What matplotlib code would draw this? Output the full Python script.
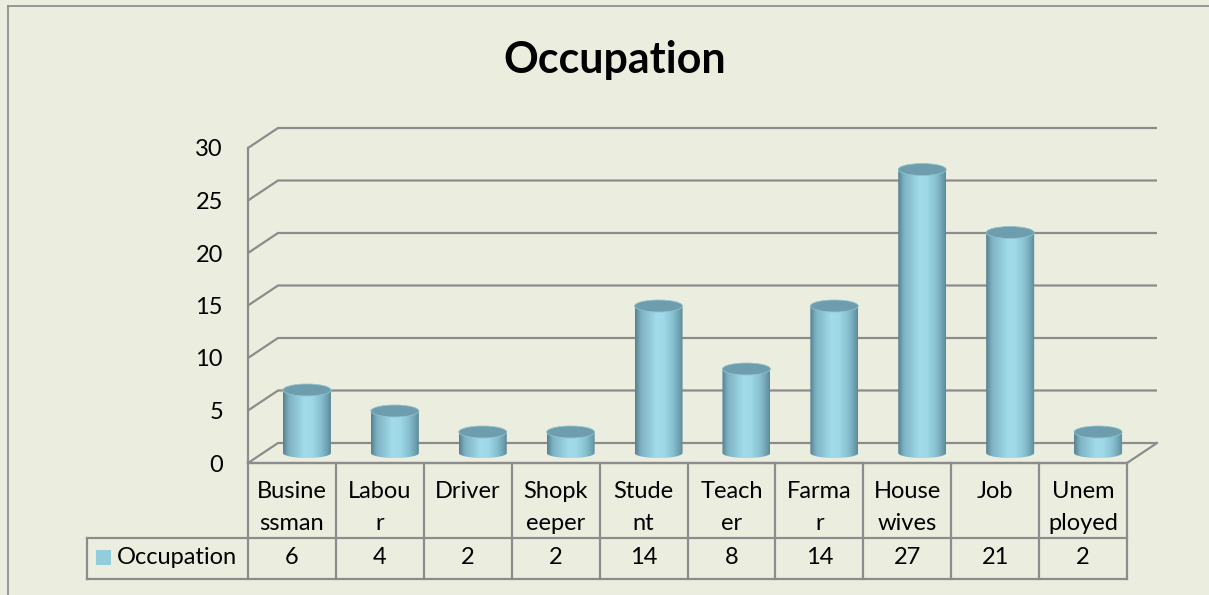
import numpy as np
import matplotlib.pyplot as plt
from matplotlib.patches import Ellipse, PathPatch, Rectangle
from matplotlib.path import Path
from matplotlib.colors import LinearSegmentedColormap
import matplotlib.transforms as mtransforms

# data
labels = ["Busine\nssman", "Labou\nr", "Driver", "Shopk\neeper", "Stude\nnt",
          "Teach\ner", "Farma\nr", "House\nwives", "Job", "Unem\nployed"]
values = [6, 4, 2, 2, 14, 8, 14, 27, 21, 2]
series_name = "Occupation"
yticks = [0, 5, 10, 15, 20, 25, 30]

W, H = 1209, 595
bg = "#EBEEDF"
grid_c = "#8C8C8C"
font = "Lato"

fig = plt.figure(figsize=(W / 100, H / 100), dpi=100, facecolor=bg)

def fy(p):
    return 1 - p / H

def fx(p):
    return p / W

# front plane of the plot area (pixels)
x0, x1 = 248, 1127
ytop, ybot = 148, 463
ax = fig.add_axes([fx(x0), fy(ybot), fx(x1 - x0), (ybot - ytop) / H])
ax.set_facecolor("none")
ax.set_xlim(0, len(values))
ax.set_ylim(0, 30)
for s in ax.spines.values():
    s.set_visible(False)
ax.set_xticks([])
ax.set_yticks(yticks)
ax.set_yticklabels([str(t) for t in yticks], fontsize=17, family=font)
ax.tick_params(axis="y", length=0, pad=18)

# depth offsets in data units
px_x = (x1 - x0) / len(values)
px_y = (ybot - ytop) / 30
dxb, dyb = 30 / px_x, 20 / px_y        # back wall
dxm, dym = 15 / px_x, 10 / px_y        # mid depth (cylinders)

# walls & gridlines
for t in yticks:
    ax.plot([0, dxb, len(values) + dxb], [t, t + dyb, t + dyb], color=grid_c,
            lw=1.6, clip_on=False, zorder=1, solid_capstyle="butt")
ax.plot([0, 0], [0, 30], color=grid_c, lw=1.6, clip_on=False, zorder=1)
ax.plot([0, len(values), len(values) + dxb], [0, 0, dyb], color=grid_c,
        lw=1.6, clip_on=False, zorder=1)

# cylinders
cmap = LinearSegmentedColormap.from_list("cyl", [
    (0.0, "#56808F"), (0.12, "#7DB2C2"), (0.45, "#A2DBEA"), (0.6, "#9FD8E7"),
    (0.8, "#86BFCF"), (0.93, "#6D9FAF"), (1.0, "#5B8797")])
grad = np.linspace(0, 1, 256)[None, :]
cw = 48 / px_x
eh_top = 12 / px_y
eh_bot = 10 / px_y
for i, v in enumerate(values):
    xc = i + 0.5 + dxm
    xl, xr = xc - cw / 2, xc + cw / 2
    yb = dym
    yt = v + dym
    th = np.linspace(np.pi, 2 * np.pi, 40)
    bx = xc + cw / 2 * np.cos(th)
    by = yb + eh_bot / 2 * np.sin(th)
    verts = list(zip(bx, by)) + [(xr, yt), (xl, yt), (xl, yb)]
    codes = [Path.MOVETO] + [Path.LINETO] * (len(verts) - 2) + [Path.CLOSEPOLY]
    body = PathPatch(Path(verts, codes), transform=ax.transData,
                     facecolor="none", edgecolor="none")
    im = ax.imshow(grad, cmap=cmap, extent=[xl, xr, yb - eh_bot, yt],
                   aspect="auto", zorder=3, interpolation="bilinear")
    im.set_clip_path(body)
    ax.add_patch(Ellipse((xc, yt), cw, eh_top, facecolor="#6E9EAE",
                         edgecolor="#8FC3D2", lw=0.6, zorder=4))
ax.set_xlim(0, len(values))
ax.set_ylim(0, 30)

# data table
tr = mtransforms.blended_transform_factory(ax.transData, fig.transFigure)
row1, row2 = 538, 579
hx = 87
for i in range(len(values) + 1):
    ax.plot([i, i], [fy(ybot), fy(row2)], color=grid_c, lw=1.6,
            transform=tr, clip_on=False)
ax.plot([0, len(values)], [fy(ybot), fy(ybot)], color=grid_c, lw=1.6,
        transform=tr, clip_on=False)
for r in (row1, row2):
    fig.add_artist(plt.Line2D([fx(hx), fx(x1)], [fy(r), fy(r)], color=grid_c,
                              lw=1.6, transform=fig.transFigure))
fig.add_artist(plt.Line2D([fx(hx), fx(hx)], [fy(row1), fy(row2)],
                          color=grid_c, lw=1.6, transform=fig.transFigure))

for i, lab in enumerate(labels):
    for j, line in enumerate(lab.split("\n")):
        ax.text(i + 0.5, fy(492 + 31 * j), line, transform=tr, ha="center",
                va="center", fontsize=17, family=font, color="black")
    ax.text(i + 0.5, fy(558), str(values[i]), transform=tr, ha="center",
            va="center", fontsize=17, family=font, color="black")

fig.add_artist(Rectangle((fx(96), fy(565)), fx(15), 15 / H,
                         facecolor="#93CDDC", edgecolor="none",
                         transform=fig.transFigure))
fig.text(fx(117), fy(558), series_name, ha="left", va="center", fontsize=17,
         family=font)

# title
fig.text(fx(615), fy(73), "Occupation", ha="center", va="baseline",
         fontsize=31, fontweight="bold", family=font)

# chart border (top and left visible)
fig.add_artist(plt.Line2D([fx(8), 1], [fy(6), fy(6)], color="#888888", lw=1.2,
                          transform=fig.transFigure))
fig.add_artist(plt.Line2D([fx(8), fx(8)], [fy(6), 0], color="#888888", lw=1.2,
                          transform=fig.transFigure))

fig.savefig("out.png", dpi=100, facecolor=bg)
